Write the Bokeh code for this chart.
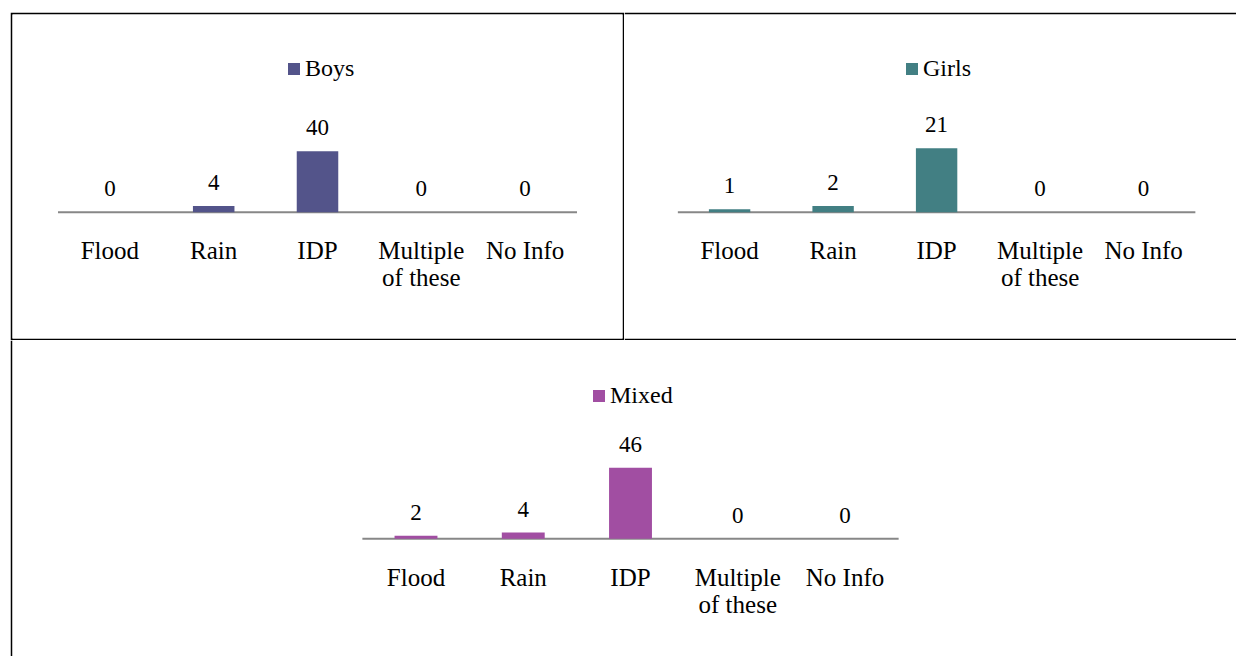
from bokeh.plotting import figure
from bokeh.models import (ColumnDataSource, Range1d, FactorRange, LabelSet,
                          Legend, LegendItem, Spacer)
from bokeh.layouts import column, row
from bokeh.transform import dodge
from bokeh.embed import file_html
from bokeh.resources import INLINE

# ---------------- data ----------------
categories = ["Flood", "Rain", "IDP", "Multiple of these", "No Info"]
label_line1 = ["Flood", "Rain", "IDP", "Multiple", "No Info"]
label_line2 = ["", "", "", "of these", ""]
boys = [0, 4, 40, 0, 0]
girls = [1, 2, 21, 0, 0]
mixed = [2, 4, 46, 0, 0]

FONT = "Liberation Serif"


def panel(name, values, color, w, h, borders, rp, shift, yr, legend_loc):
    l, t, r, b = borders
    p = figure(width=w, height=h,
               x_range=FactorRange(*categories, range_padding=rp),
               y_range=Range1d(*yr),
               x_axis_location=None, y_axis_location=None,
               output_backend="svg", toolbar_location=None,
               min_border_left=l, min_border_top=t,
               min_border_right=r, min_border_bottom=b,
               border_fill_color="black", background_fill_color="white",
               outline_line_color=None)
    p.grid.visible = False
    src = ColumnDataSource(dict(cat=categories, val=values,
                                txt=[str(v) for v in values],
                                l1=label_line1, l2=label_line2))
    xs = dodge("cat", shift, range=p.x_range)
    # baseline (category axis line)
    p.segment(x0=shift, y0=0, x1=shift + len(categories), y1=0,
              line_color="#878787", line_width=2)
    bars = p.vbar(x=xs, top="val", width=0.4, source=src,
                  fill_color=color, line_color=None)
    p.add_layout(LabelSet(x=xs, y="val", text="txt", source=src,
                          y_offset=16, text_align="center",
                          text_baseline="alphabetic", text_font=FONT,
                          text_font_size="23px", text_color="black"))
    p.add_layout(LabelSet(x=xs, y=0, text="l1", source=src,
                          y_offset=-47, text_align="center",
                          text_baseline="alphabetic", text_font=FONT,
                          text_font_size="25px", text_color="black"))
    p.add_layout(LabelSet(x=xs, y=0, text="l2", source=src,
                          y_offset=-74, text_align="center",
                          text_baseline="alphabetic", text_font=FONT,
                          text_font_size="25px", text_color="black"))
    leg = Legend(items=[LegendItem(label=name, renderers=[bars])],
                 location=legend_loc, padding=0, margin=0, spacing=0,
                 glyph_width=15, glyph_height=15, label_standoff=4,
                 border_line_color=None, background_fill_alpha=0,
                 label_text_font=FONT, label_text_font_size="24px",
                 label_text_color="black")
    p.add_layout(leg)
    return p


p_boys = panel("Boys", boys, "#53548a", 614, 328, (2, 2, 2, 2),
               0.1753, 0.0, (-82.8, 129.6), (274, 256))
p_girls = panel("Girls", girls, "#427f83", 612, 328, (0, 2, 0, 2),
                0.1826, 0.059, (-41.44, 64.86), (280, 256))
p_mixed = panel("Mixed", mixed, "#a14ea2", 1226, 316, (2, 0, 0, 0),
                1.2825, 0.056, (-76.3, 128.5), (579, 247))

layout = column(Spacer(width=1236, height=12),
                row(Spacer(width=10, height=328), p_boys, p_girls),
                row(Spacer(width=10, height=316), p_mixed))

open("out.html", "w").write(file_html(layout, INLINE))
